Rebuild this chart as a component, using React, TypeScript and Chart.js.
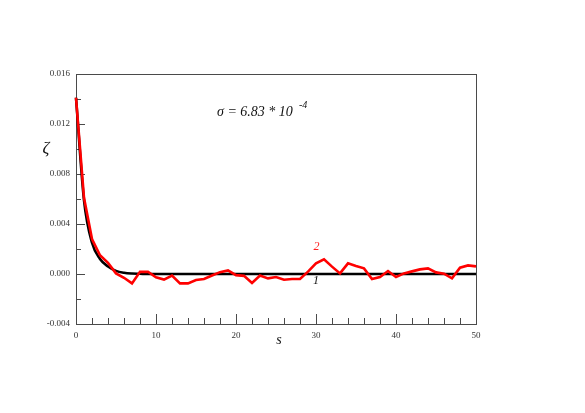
import React, { useEffect, useRef } from "react";
import { Chart, registerables } from "chart.js";

Chart.register(...registerables);

const sValues = [0, 1, 2, 3, 4, 5, 6, 7, 8, 9, 10, 11, 12, 13, 14, 15, 16, 17, 18, 19, 20, 21, 22, 23, 24, 25, 26, 27, 28, 29, 30, 31, 32, 33, 34, 35, 36, 37, 38, 39, 40, 41, 42, 43, 44, 45, 46, 47, 48, 49, 50];

const curve1 = [0.0141, 0.0059, 0.0025, 0.0012, 0.0006, 0.00025, 0.0001, 0.00004, 0.00002, 0, 0, 0, 0, 0, 0, 0, 0, 0, 0, 0, 0, 0, 0, 0, 0, 0, 0, 0, 0, 0, 0, 0, 0, 0, 0, 0, 0, 0, 0, 0, 0, 0, 0, 0, 0, 0, 0, 0, 0, 0, 0];

const curve2 = [0.0141, 0.0061, 0.0028, 0.0015, 0.0009, 0.00005, -0.0003, -0.00075, 0.00017, 0.00018, -0.00027, -0.00045, -0.00012, -0.00075, -0.00075, -0.00048, -0.0004, -0.00012, 0.00015, 0.00029, -0.00009, -0.00015, -0.00072, -0.00012, -0.00035, -0.00024, -0.00046, -0.0004, -0.0004, 0.00019, 0.00085, 0.00117, 0.00059, 0.00005, 0.00085, 0.00064, 0.00045, -0.0004, -0.00024, 0.00024, -0.00024, 0.00005, 0.00021, 0.00037, 0.00045, 0.00013, 0.00003, -0.00035, 0.00051, 0.00069, 0.00061];

const xMajor = [0, 10, 20, 30, 40, 50];
const yMajor = [-0.004, 0, 0.004, 0.008, 0.012, 0.016];

const SERIF = "'Liberation Serif', 'Times New Roman', serif";

const decorPlugin = {
  id: "decor",
  beforeDatasetsDraw(chart: any) {
    const { ctx, chartArea: a, scales } = chart;
    ctx.save();
    ctx.strokeStyle = "#4a4a4a";
    ctx.lineWidth = 1;
    ctx.strokeRect(a.left + 0.5, a.top + 0.5, a.right - a.left, a.bottom - a.top);
    // x ticks (inward)
    const xs = scales.x;
    for (let v = 0; v <= 50; v += 2) {
      const px = Math.round(xs.getPixelForValue(v)) + 0.5;
      const major = xMajor.includes(v);
      ctx.beginPath();
      ctx.moveTo(px, a.bottom);
      ctx.lineTo(px, a.bottom - (major ? 10 : 6));
      ctx.stroke();
    }
    const ys = scales.y;
    for (let i = 0; i <= 10; i++) {
      const v = -0.004 + i * 0.002;
      const py = Math.round(ys.getPixelForValue(v)) + 0.5;
      const major = i % 2 === 0;
      ctx.beginPath();
      ctx.moveTo(a.left, py);
      ctx.lineTo(a.left + (major ? 9 : 5), py);
      ctx.stroke();
    }
    ctx.restore();
  },
  afterDraw(chart: any) {
    const { ctx } = chart;
    ctx.save();
    ctx.fillStyle = "#111";
    ctx.textBaseline = "alphabetic";
    ctx.textAlign = "left";
    ctx.font = `italic 14px ${SERIF}`;
    ctx.fillText("\u03C3 = 6.83 * 10", 217, 116);
    ctx.font = `italic 10px ${SERIF}`;
    ctx.fillText("-4", 299, 108);
    ctx.textAlign = "center";
    ctx.textBaseline = "middle";
    ctx.font = `italic 17px ${SERIF}`;
    ctx.fillText("\u03B6", 46, 149);
    ctx.font = `italic 14px ${SERIF}`;
    ctx.fillText("s", 279, 340);
    ctx.font = `italic 12px ${SERIF}`;
    ctx.fillStyle = "#ff2020";
    ctx.fillText("2", 316.5, 247);
    ctx.fillStyle = "#111";
    ctx.fillText("1", 316, 281);
    ctx.restore();
  },
};

export default function App() {
  const ref = useRef<HTMLCanvasElement | null>(null);
  useEffect(() => {
    if (!ref.current) return;
    const chart = new Chart(ref.current, {
      type: "line",
      data: {
        labels: sValues,
        datasets: [
          {
            label: "2",
            data: sValues.map((s, i) => ({ x: s, y: curve2[i] })),
            borderColor: "#ff0000",
            borderWidth: 2.6,
            pointRadius: 0,
            tension: 0,
            clip: 4,
            order: 0,
          },
          {
            label: "1",
            data: sValues.map((s, i) => ({ x: s, y: curve1[i] })),
            borderColor: "#000000",
            borderWidth: 2.6,
            pointRadius: 0,
            cubicInterpolationMode: "monotone",
            clip: 4,
            order: 1,
          },
        ],
      },
      options: {
        animation: false,
        responsive: false,
        maintainAspectRatio: false,
        layout: { padding: { left: 0, right: 109, top: 74, bottom: 0 } },
        plugins: { legend: { display: false }, tooltip: { enabled: false } },
        scales: {
          x: {
            type: "linear",
            min: 0,
            max: 50,
            grid: { display: false, drawTicks: false },
            border: { display: false },
            afterFit: (s: any) => {
              s.height = 89;
            },
            ticks: {
              stepSize: 10,
              padding: 6,
              color: "#333",
              font: { family: SERIF, size: 9 },
              maxRotation: 0,
              callback: (v: any) => String(v),
            },
          },
          y: {
            type: "linear",
            min: -0.004,
            max: 0.016,
            grid: { display: false, drawTicks: false },
            border: { display: false },
            afterFit: (s: any) => {
              s.width = 76;
            },
            afterBuildTicks: (s: any) => {
              s.ticks = yMajor.map((v) => ({ value: v }));
            },
            ticks: {
              padding: 6,
              color: "#333",
              font: { family: SERIF, size: 9 },
              callback: (v: any) => Number(v).toFixed(3),
            },
          },
        },
      },
      plugins: [decorPlugin],
    });
    return () => chart.destroy();
  }, []);
  return (
    <div style={{ position: "fixed", left: 0, top: 0, width: 585, height: 413, background: "#fff" }}>
      <canvas ref={ref} width={585} height={413} style={{ width: 585, height: 413 }} />
    </div>
  );
}
